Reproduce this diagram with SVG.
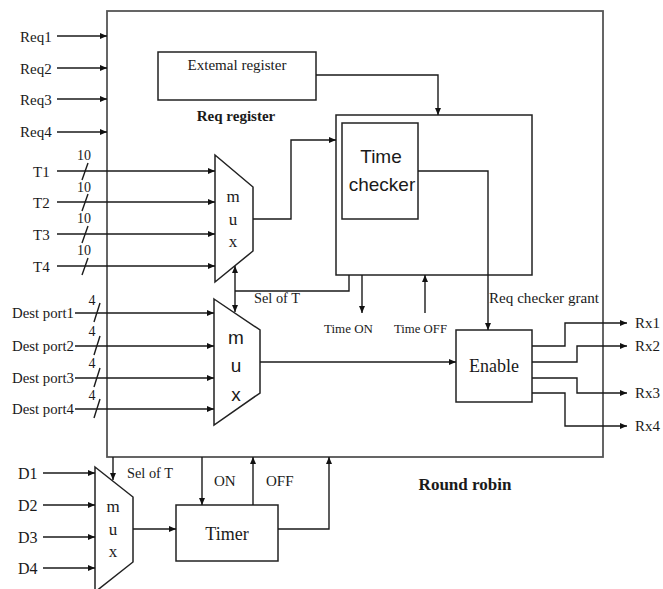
<svg xmlns="http://www.w3.org/2000/svg" width="663" height="589" viewBox="0 0 663 589">
<style>
.s{fill:none;stroke:#1a1a1a;stroke-width:1.4}
.b{fill:#fff;stroke:#222;stroke-width:1.5}
.t{font-family:"Liberation Serif","Times New Roman",serif;fill:#1a1a1a}
.a{font-family:"Liberation Sans",Arial,sans-serif;fill:#1a1a1a}
.c{stroke-width:1.4;stroke:#1a1a1a;fill:none;marker-end:url(#ar)}
</style>
<defs>
<marker id="ar" markerUnits="userSpaceOnUse" markerWidth="8" markerHeight="7" refX="7" refY="3" orient="auto-start-reverse">
<path d="M0,0 L7,3 L0,6 z" fill="#111"/>
</marker>
</defs>
<rect width="663" height="589" fill="#fff"/>

<g id="round-robin">
<rect x="107" y="11" width="496" height="446" fill="none" stroke="#555" stroke-width="1.8"/>
<text class="t" x="465" y="490" font-size="17" font-weight="bold" text-anchor="middle">Round robin</text>
</g>

<g id="external-register">
<rect class="b" x="158" y="52" width="158" height="48"/>
<text class="t" x="237" y="70" font-size="15" text-anchor="middle" textLength="99" lengthAdjust="spacingAndGlyphs">Extemal register</text>
</g>
<text class="t" x="236" y="121" font-size="15" font-weight="bold" text-anchor="middle">Req register</text>

<g id="time-checker-block">
<rect class="b" x="336" y="115" width="196" height="160"/>
</g>
<g id="time-checker">
<rect class="b" x="342" y="123" width="76" height="96"/>
<text class="a" x="381" y="163" font-size="19" text-anchor="middle">Time</text>
<text class="a" x="382" y="191" font-size="19" text-anchor="middle">checker</text>
</g>

<g id="mux-t">
<path class="b" d="M215,155 L253,187 L253,251 L215,282 Z"/>
<text class="t" x="233" y="202" font-size="17" text-anchor="middle">m</text>
<text class="t" x="233" y="225" font-size="17" text-anchor="middle">u</text>
<text class="t" x="233" y="247" font-size="17" text-anchor="middle">x</text>
</g>

<g id="mux-dest">
<path class="b" d="M214,299 L260,330 L260,393 L214,425 Z"/>
<text class="a" x="236" y="344" font-size="19" text-anchor="middle">m</text>
<text class="a" x="236" y="372" font-size="19" text-anchor="middle">u</text>
<text class="a" x="236" y="401" font-size="19" text-anchor="middle">x</text>
</g>

<g id="enable">
<rect class="b" x="456" y="330" width="76" height="72"/>
<text class="t" x="494" y="372" font-size="18" text-anchor="middle">Enable</text>
</g>

<g id="mux-d">
<path class="b" d="M95,467 L133,497 L133,562 L95,592 Z"/>
<text class="t" x="113" y="512" font-size="17" text-anchor="middle">m</text>
<text class="t" x="113" y="535" font-size="17" text-anchor="middle">u</text>
<text class="t" x="113" y="557" font-size="17" text-anchor="middle">x</text>
</g>

<g id="timer">
<rect class="b" x="176" y="505" width="102" height="56"/>
<text class="t" x="227" y="540" font-size="18" text-anchor="middle">Timer</text>
</g>

<g id="connectors">
<line class="c" x1="57" y1="36" x2="107" y2="36"/>
<line class="c" x1="57" y1="68" x2="107" y2="68"/>
<line class="c" x1="57" y1="99" x2="107" y2="99"/>
<line class="c" x1="57" y1="132" x2="107" y2="132"/>

<line class="c" x1="57" y1="171" x2="215" y2="171"/>
<line class="c" x1="57" y1="202" x2="215" y2="202"/>
<line class="c" x1="57" y1="234" x2="215" y2="234"/>
<line class="c" x1="57" y1="266" x2="215" y2="266"/>
<g class="s">
<line x1="88" y1="163" x2="82" y2="180"/>
<line x1="88" y1="194" x2="82" y2="211"/>
<line x1="88" y1="226" x2="82" y2="243"/>
<line x1="88" y1="258" x2="82" y2="275"/>
<line x1="100" y1="303" x2="94" y2="322"/>
<line x1="100" y1="336" x2="94" y2="355"/>
<line x1="100" y1="368" x2="94" y2="387"/>
<line x1="100" y1="399" x2="94" y2="418"/>
</g>

<line class="c" x1="75" y1="313" x2="214" y2="313"/>
<line class="c" x1="75" y1="346" x2="214" y2="346"/>
<line class="c" x1="75" y1="378" x2="214" y2="378"/>
<line class="c" x1="75" y1="409" x2="214" y2="409"/>

<polyline class="c" points="316,75 438,75 438,115"/>
<polyline class="c" points="253,219 291,219 291,140 336,140"/>
<polyline class="c" points="418,171 488,171 488,330"/>
<line class="c" x1="260" y1="362" x2="456" y2="362"/>

<line class="c" x1="235" y1="291" x2="235" y2="266" />
<line class="c" x1="235" y1="291" x2="235" y2="312" />
<polyline class="s" points="235,291 349,291 349,275"/>
<line class="c" x1="362" y1="275" x2="362" y2="313"/>
<line class="c" x1="425" y1="313" x2="425" y2="275"/>

<polyline class="c" points="532,346 565,346 565,323 627,323"/>
<polyline class="c" points="532,362 577,362 577,346 627,346"/>
<polyline class="c" points="532,378 577,378 577,393 627,393"/>
<polyline class="c" points="532,393 565,393 565,426 627,426"/>

<line class="c" x1="43" y1="473" x2="95" y2="473"/>
<line class="c" x1="43" y1="505" x2="95" y2="505"/>
<line class="c" x1="43" y1="537" x2="95" y2="537"/>
<line class="c" x1="43" y1="568" x2="95" y2="568"/>
<line class="c" x1="113" y1="457" x2="113" y2="480"/>
<line class="c" x1="133" y1="529" x2="176" y2="529"/>
<line class="c" x1="202" y1="457" x2="202" y2="505"/>
<line class="c" x1="253" y1="505" x2="253" y2="457"/>
<polyline class="c" points="278,529 329,529 329,457"/>
</g>

<g id="labels">
<text class="t" x="20" y="42" font-size="15">Req1</text>
<text class="t" x="20" y="74" font-size="15">Req2</text>
<text class="t" x="20" y="105" font-size="15">Req3</text>
<text class="t" x="20" y="137" font-size="15">Req4</text>
<text class="t" x="33" y="177" font-size="15">T1</text>
<text class="t" x="33" y="208" font-size="15">T2</text>
<text class="t" x="33" y="240" font-size="15">T3</text>
<text class="t" x="33" y="272" font-size="15">T4</text>
<text class="t" x="84" y="160" font-size="14" text-anchor="middle">10</text>
<text class="t" x="84" y="192" font-size="14" text-anchor="middle">10</text>
<text class="t" x="84" y="223" font-size="14" text-anchor="middle">10</text>
<text class="t" x="84" y="255" font-size="14" text-anchor="middle">10</text>
<text class="t" x="12" y="318" font-size="15" textLength="62" lengthAdjust="spacingAndGlyphs">Dest port1</text>
<text class="t" x="12" y="351" font-size="15" textLength="62" lengthAdjust="spacingAndGlyphs">Dest port2</text>
<text class="t" x="12" y="383" font-size="15" textLength="62" lengthAdjust="spacingAndGlyphs">Dest port3</text>
<text class="t" x="12" y="414" font-size="15" textLength="62" lengthAdjust="spacingAndGlyphs">Dest port4</text>
<text class="t" x="92" y="305" font-size="14" text-anchor="middle">4</text>
<text class="t" x="92" y="336" font-size="14" text-anchor="middle">4</text>
<text class="t" x="92" y="368" font-size="14" text-anchor="middle">4</text>
<text class="t" x="92" y="400" font-size="14" text-anchor="middle">4</text>
<text class="t" x="254" y="303" font-size="14" textLength="46" lengthAdjust="spacingAndGlyphs">Sel of T</text>
<text class="t" x="324" y="333" font-size="13" textLength="49" lengthAdjust="spacingAndGlyphs">Time ON</text>
<text class="t" x="394" y="333" font-size="13" textLength="53" lengthAdjust="spacingAndGlyphs">Time OFF</text>
<text class="t" x="489" y="303" font-size="15" textLength="110" lengthAdjust="spacingAndGlyphs">Req checker grant</text>
<text class="t" x="635" y="328" font-size="15">Rx1</text>
<text class="t" x="635" y="351" font-size="15">Rx2</text>
<text class="t" x="635" y="398" font-size="15">Rx3</text>
<text class="t" x="635" y="431" font-size="15">Rx4</text>
<text class="t" x="18" y="479" font-size="16">D1</text>
<text class="t" x="18" y="511" font-size="16">D2</text>
<text class="t" x="18" y="543" font-size="16">D3</text>
<text class="t" x="18" y="574" font-size="16">D4</text>
<text class="t" x="127" y="478" font-size="14" textLength="46" lengthAdjust="spacingAndGlyphs">Sel of T</text>
<text class="t" x="214" y="486" font-size="15">ON</text>
<text class="t" x="266" y="486" font-size="15">OFF</text>
</g>
</svg>
